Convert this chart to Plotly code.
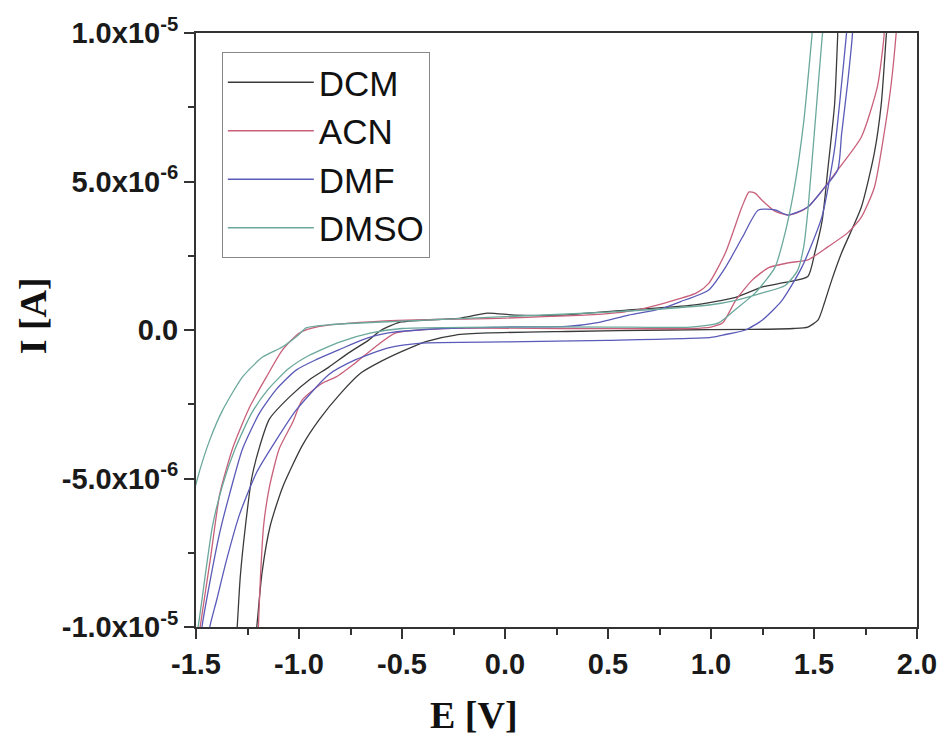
import plotly.graph_objects as go

# ---------------- data (E in V, I in units of 1e-6 A) ----------------
solvents = ["DCM", "ACN", "DMF", "DMSO"]
colors = ["#3a3a3a", "#c8607a", "#5a5ab8", "#6aa89c"]

# DCM forward (lower) branch, left -> right
DCM_fwd_E = [-1.22, -1.205, -1.18, -1.14, -1.08, -0.985, -0.9, -0.8, -0.7, -0.6, -0.5, -0.38, -0.24, -0.08,
             0.3, 0.8, 1.2, 1.40, 1.47, 1.52, 1.55, 1.586, 1.634, 1.73, 1.793, 1.827, 1.851, 1.86]
DCM_fwd_I = [-11, -10, -8.2, -6.6, -5.3, -3.9, -3.0, -2.15, -1.45, -1.05, -0.72, -0.38, -0.17, -0.1,
             -0.05, 0.0, 0.02, 0.05, 0.1, 0.34, 0.9, 1.68, 2.6, 4.14, 5.96, 7.64, 9.93, 10.6]
# DCM reverse (upper) branch, left -> right
DCM_rev_E = [-1.31, -1.30, -1.285, -1.26, -1.23, -1.19, -1.144, -1.047, -0.951, -0.855, -0.759, -0.662, -0.6, -0.503,
             -0.214, -0.085, 0.045, 0.267, 0.59, 0.91, 1.12, 1.25, 1.36, 1.47, 1.504, 1.54, 1.567, 1.60, 1.615, 1.62]
DCM_rev_I = [-11, -10, -8.3, -6.6, -5.0, -3.9, -3.0, -2.26, -1.68, -1.25, -0.77, -0.34, 0.0, 0.27,
             0.4, 0.57, 0.5, 0.5, 0.67, 0.84, 1.1, 1.45, 1.6, 1.8, 2.6, 3.7, 5.4, 7.6, 9.9, 10.6]

ACN_fwd_E = [-1.20, -1.197, -1.187, -1.172, -1.144, -1.096, -1.03, -0.985, -0.889, -0.82, -0.725, -0.63, -0.53,
             -0.3, 0.3, 0.9, 1.0, 1.057, 1.12, 1.20, 1.28, 1.374, 1.47, 1.567, 1.663, 1.73, 1.793, 1.84, 1.875, 1.899, 1.905]
ACN_fwd_I = [-11, -10, -8.3, -6.6, -5.3, -4.0, -3.1, -2.36, -1.8, -1.58, -1.1, -0.57, -0.1,
             0.05, 0.05, 0.05, 0.1, 0.24, 1.0, 1.68, 2.1, 2.26, 2.36, 2.8, 3.27, 3.8, 4.8, 6.6, 8.3, 10, 10.6]
ACN_rev_E = [-1.49, -1.48, -1.43, -1.384, -1.32, -1.24, -1.158, -1.08, -0.998, -0.9, -0.6, 0.0, 0.5, 0.62, 0.77,
             0.93, 0.99, 1.07, 1.15, 1.185, 1.215, 1.25, 1.31, 1.374, 1.42, 1.47, 1.54, 1.615, 1.73, 1.808, 1.84, 1.845]
ACN_rev_I = [-10.6, -10, -7.7, -5.5, -3.94, -2.6, -1.58, -0.67, -0.1, 0.12, 0.3, 0.4, 0.55, 0.65, 0.9,
             1.25, 1.58, 2.6, 4.14, 4.65, 4.6, 4.35, 4.0, 3.87, 3.95, 4.14, 4.7, 5.39, 6.5, 8.2, 9.9, 10.6]

DMF_fwd_E = [-1.44, -1.433, -1.40, -1.35, -1.288, -1.206, -1.11, -1.014, -0.855, -0.725, -0.566, -0.407,
             0.0, 0.5, 1.0, 1.057, 1.167, 1.25, 1.345, 1.44, 1.538, 1.60, 1.634, 1.658, 1.665]
DMF_fwd_I = [-10.6, -10, -9.1, -7.7, -6.2, -4.8, -3.7, -2.7, -1.5, -1.0, -0.6, -0.44,
             -0.4, -0.35, -0.25, -0.17, 0.0, 0.34, 1.0, 2.1, 3.8, 6.1, 8.3, 10, 10.6]
DMF_rev_E = [-1.48, -1.471, -1.433, -1.384, -1.336, -1.274, -1.192, -1.11, -1.014, -0.917, -0.807, -0.696, -0.566,
             -0.3, 0.0, 0.3, 0.45, 0.6, 0.75, 0.85, 0.989, 1.071, 1.153, 1.23, 1.312, 1.374, 1.47, 1.54, 1.615,
             1.634, 1.663, 1.687, 1.69]
DMF_rev_I = [-10.6, -10, -8.5, -6.8, -5.5, -4.0, -2.8, -2.0, -1.35, -1.0, -0.67, -0.34, -0.1,
             0.05, 0.1, 0.12, 0.25, 0.5, 0.7, 0.95, 1.35, 2.12, 3.13, 4.04, 4.04, 3.87, 4.14, 4.7, 5.39,
             6.6, 8.3, 10, 10.6]

DMSO_fwd_E = [-1.51, -1.49, -1.45, -1.42, -1.37, -1.31, -1.23, -1.15, -1.05, -0.95, -0.8, -0.65, -0.5,
              0.0, 0.5, 0.9, 1.037, 1.12, 1.215, 1.31, 1.35, 1.40, 1.45, 1.49, 1.50]
DMSO_fwd_I = [-10.6, -10, -8.0, -6.6, -5.2, -4.0, -2.8, -2.0, -1.3, -0.85, -0.4, -0.1, 0.05,
              0.1, 0.1, 0.1, 0.24, 0.7, 1.25, 2.1, 3.0, 4.6, 7.0, 9.9, 10.6]
DMSO_rev_E = [-1.56, -1.495, -1.433, -1.37, -1.274, -1.177, -1.081, -1.0, -0.966, -0.85, -0.5, 0.0, 0.5,
              1.0, 1.12, 1.25, 1.36, 1.42, 1.45, 1.47, 1.50, 1.54, 1.55]
DMSO_rev_I = [-7.0, -5.05, -3.7, -2.69, -1.58, -0.91, -0.57, -0.15, 0.07, 0.18, 0.3, 0.45, 0.6,
              0.85, 1.0, 1.25, 1.5, 2.0, 2.8, 4.0, 6.5, 9.9, 10.6]

x_tickvals = [-1.5, -1.0, -0.5, 0.0, 0.5, 1.0, 1.5, 2.0]
x_ticktext = ["-1.5", "-1.0", "-0.5", "0.0", "0.5", "1.0", "1.5", "2.0"]
y_tickvals = [1e-5, 5e-6, 0.0, -5e-6, -1e-5]
y_ticktext = ["1.0x10<sup>-5</sup>", "5.0x10<sup>-6</sup>", "0.0", "-5.0x10<sup>-6</sup>", "-1.0x10<sup>-5</sup>"]
y_minor_vals = [-7.5e-6, -2.5e-6, 2.5e-6, 7.5e-6]
x_title = "E [V]"
y_title = "I [A]"

branches = {
    "DCM": (DCM_fwd_E, DCM_fwd_I, DCM_rev_E, DCM_rev_I),
    "ACN": (ACN_fwd_E, ACN_fwd_I, ACN_rev_E, ACN_rev_I),
    "DMF": (DMF_fwd_E, DMF_fwd_I, DMF_rev_E, DMF_rev_I),
    "DMSO": (DMSO_fwd_E, DMSO_fwd_I, DMSO_rev_E, DMSO_rev_I),
}

fig = go.Figure()
for name, col in zip(solvents, colors):
    fE, fI, rE, rI = branches[name]
    E = list(fE) + list(rE)[::-1]
    I = [v * 1e-6 for v in list(fI) + list(rI)[::-1]]
    fig.add_trace(go.Scatter(x=E, y=I, mode="lines", name=name,
                             line=dict(color=col, width=1.3, shape="spline", smoothing=0.6)))

axis_common = dict(showgrid=False, zeroline=False, showline=True, linecolor="#333333", linewidth=2,
                   mirror=True, ticks="outside", ticklen=10, tickwidth=1.5, tickcolor="#333333",
                   tickfont=dict(family="Liberation Sans, Arial", size=29, color="#1a1a1a", weight="bold"))

fig.update_xaxes(range=[-1.5, 2.0], tickmode="array", tickvals=x_tickvals, ticktext=x_ticktext,
                 minor=dict(ticks="outside", ticklen=6, tickwidth=1.5, tickcolor="#333333", dtick=0.25),
                 **axis_common)
fig.update_yaxes(range=[-1e-5, 1e-5], tickmode="array", tickvals=y_tickvals, ticktext=y_ticktext,
                 minor=dict(ticks="outside", ticklen=6, tickwidth=1.5, tickcolor="#333333",
                            tickmode="array", tickvals=y_minor_vals),
                 **axis_common)

fig.add_annotation(text=x_title, xref="paper", yref="paper", x=0.385, y=-0.148, showarrow=False,
                   font=dict(family="Liberation Serif, Times New Roman", size=38, color="#111111", weight="bold"),
                   xanchor="center", yanchor="middle")
fig.add_annotation(text=y_title, xref="paper", yref="paper", x=-0.2256, y=0.5236, showarrow=False,
                   textangle=-90,
                   font=dict(family="Liberation Serif, Times New Roman", size=38, color="#111111", weight="bold"),
                   xanchor="center", yanchor="middle")

fig.update_layout(
    width=949, height=746,
    margin=dict(l=196, r=26, t=33, b=119),
    paper_bgcolor="white", plot_bgcolor="white",
    showlegend=True,
    legend=dict(x=0.0358, y=0.968, xanchor="left", yanchor="top",
                bordercolor="#888888", borderwidth=1, bgcolor="rgba(255,255,255,0)",
                font=dict(family="Liberation Sans, Arial", size=35, color="#111111"),
                itemwidth=86, tracegroupgap=0),
)

fig.write_html("out.html")
